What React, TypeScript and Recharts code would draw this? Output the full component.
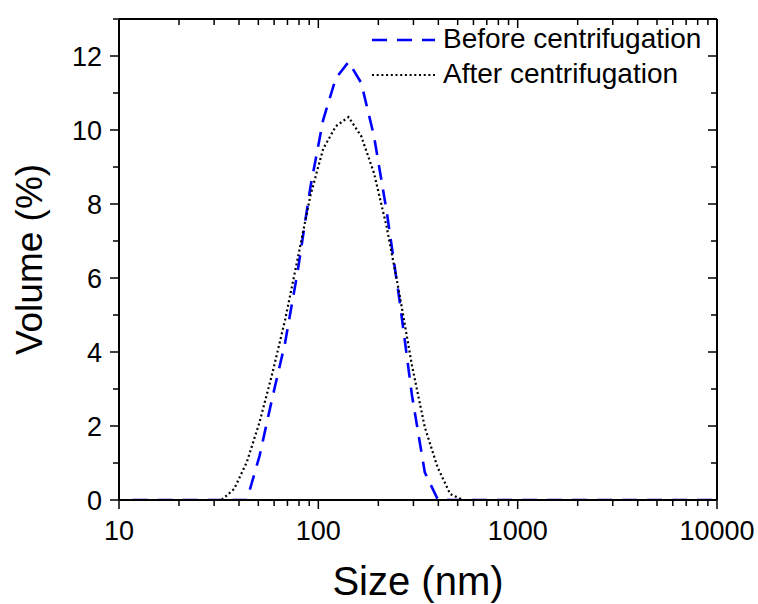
import { LineChart, Line, XAxis, YAxis } from 'recharts';

// DLS size bins (nm) and volume distributions (%)
const sizes = [
  11.7, 13.54, 15.69, 18.17, 21.04, 24.36, 28.21, 32.67, 37.84, 43.82,
  50.75, 58.77, 68.06, 78.82, 91.28, 105.7, 122.4, 141.8, 164.2, 190.1,
  220.2, 255.0, 295.3, 342.0, 396.1, 458.7, 531.2, 615.1, 712.4, 825.0,
  955.4, 1106, 1281, 1484, 1718, 1990, 2305, 2669, 3091, 3580,
  4145, 4801, 5560, 6439, 7456, 8635, 10000,
];
const before = [
  0, 0, 0, 0, 0, 0, 0, 0, 0, 0,
  1.2, 2.76, 4.24, 6.19, 8.46, 10.27, 11.4, 11.84, 11.27, 9.84,
  7.8, 5.43, 2.81, 0.75, 0.03, 0, 0, 0, 0, 0,
  0, 0, 0, 0, 0, 0, 0, 0, 0, 0,
  0, 0, 0, 0, 0, 0, 0,
];
const after = [
  0, 0, 0, 0, 0, 0, 0, 0, 0.3, 1.03,
  2.11, 3.42, 4.86, 6.53, 8.23, 9.49, 10.1, 10.35, 9.83, 8.84,
  7.38, 5.58, 3.62, 1.97, 0.89, 0.16, 0, 0, 0, 0,
  0, 0, 0, 0, 0, 0, 0, 0, 0, 0,
  0, 0, 0, 0, 0, 0, 0,
];

const xMajor = [10, 100, 1000, 10000];
const xTicks = [
  10, 20, 30, 40, 50, 60, 70, 80, 90,
  100, 200, 300, 400, 500, 600, 700, 800, 900,
  1000, 2000, 3000, 4000, 5000, 6000, 7000, 8000, 9000, 10000,
];
const yTicks = [0, 1, 2, 3, 4, 5, 6, 7, 8, 9, 10, 11, 12, 13];
const yMajor = [0, 2, 4, 6, 8, 10, 12];

const data = sizes.map((s, i) => ({ size: s, before: before[i], after: after[i] }));

const FONT = '"Liberation Sans", Arial, sans-serif';

const BottomTick = (props: any) => {
  const { x, y, payload } = props;
  const major = xMajor.includes(payload.value);
  return (
    <g>
      <line x1={x} y1={y} x2={x} y2={y + (major ? 9 : 6)} stroke="#000" strokeWidth={1.5} />
      {major && (
        <text x={x} y={y + 40} textAnchor="middle" fontSize={27} fill="#000">
          {payload.value}
        </text>
      )}
    </g>
  );
};

const TopTick = (props: any) => {
  const { x, y, payload } = props;
  const major = xMajor.includes(payload.value);
  return <line x1={x} y1={y} x2={x} y2={y + (major ? 9 : 6)} stroke="#000" strokeWidth={1.5} />;
};

const LeftTick = (props: any) => {
  const { x, y, payload } = props;
  const major = yMajor.includes(payload.value);
  return (
    <g>
      <line x1={x} y1={y} x2={x - (major ? 9 : 6)} y2={y} stroke="#000" strokeWidth={1.5} />
      {major && (
        <text x={x - 17} y={y} dy="0.36em" textAnchor="end" fontSize={27} fill="#000">
          {payload.value}
        </text>
      )}
    </g>
  );
};

const RightTick = (props: any) => {
  const { x, y, payload } = props;
  const major = yMajor.includes(payload.value);
  return <line x1={x} y1={y} x2={x - (major ? 9 : 6)} y2={y} stroke="#000" strokeWidth={1.5} />;
};

export default function App() {
  return (
    <div style={{ position: 'absolute', left: 0, top: 0, width: 758, height: 604, fontFamily: FONT }}>
      <style>{'.recharts-surface { overflow: visible; }'}</style>
      <LineChart width={758} height={604} data={data} margin={{ top: 18, right: 40, bottom: 0, left: 0 }}>
        <XAxis
          dataKey="size"
          type="number"
          scale="log"
          domain={[10, 10000]}
          ticks={xTicks}
          interval={0}
          allowDataOverflow
          height={104}
          tickSize={0}
          tickMargin={0}
          tickLine={false}
          axisLine={{ stroke: '#000', strokeWidth: 2 }}
          tick={<BottomTick />}
          label={{
            content: (p: any) => (
              <text
                x={p.viewBox.x + p.viewBox.width / 2}
                y={p.viewBox.y + 95}
                textAnchor="middle"
                fontSize={40}
                fill="#000"
              >
                Size (nm)
              </text>
            ),
          }}
        />
        <XAxis
          xAxisId="top"
          orientation="top"
          dataKey="size"
          type="number"
          scale="log"
          domain={[10, 10000]}
          ticks={xTicks}
          interval={0}
          allowDataOverflow
          height={1}
          tickSize={0}
          tickMargin={0}
          tickLine={false}
          axisLine={{ stroke: '#000', strokeWidth: 2 }}
          tick={<TopTick />}
        />
        <YAxis
          type="number"
          domain={[0, 13]}
          ticks={yTicks}
          interval={0}
          allowDataOverflow
          width={119}
          tickSize={0}
          tickMargin={0}
          tickLine={false}
          axisLine={{ stroke: '#000', strokeWidth: 2 }}
          tick={<LeftTick />}
          label={{
            content: (p: any) => {
              const cx = p.viewBox.x + 42;
              const cy = p.viewBox.y + p.viewBox.height / 2;
              return (
                <text
                  x={cx}
                  y={cy}
                  transform={`rotate(-90, ${cx}, ${cy})`}
                  textAnchor="middle"
                  fontSize={37}
                  fill="#000"
                >
                  Volume (%)
                </text>
              );
            },
          }}
        />
        <YAxis
          yAxisId="right"
          orientation="right"
          type="number"
          domain={[0, 13]}
          ticks={yTicks}
          interval={0}
          allowDataOverflow
          width={1}
          tickSize={0}
          tickMargin={0}
          tickLine={false}
          axisLine={{ stroke: '#000', strokeWidth: 2 }}
          tick={<RightTick />}
        />
        <Line
          type="linear"
          dataKey="before"
          stroke="#0000ff"
          strokeWidth={2.6}
          strokeDasharray="15 10"
          dot={false}
          isAnimationActive={false}
        />
        <Line
          type="linear"
          dataKey="after"
          stroke="#000"
          strokeWidth={2.2}
          strokeDasharray="2 2.7"
          dot={false}
          isAnimationActive={false}
        />
      </LineChart>
      <svg
        width={360}
        height={80}
        style={{ position: 'absolute', left: 368, top: 18, fontFamily: FONT }}
      >
        <line x1={4} y1={22} x2={67} y2={22} stroke="#0000ff" strokeWidth={2.6} strokeDasharray="15 10" />
        <text x={75} y={30} fontSize={28} fill="#000">Before centrifugation</text>
        <line x1={4} y1={57} x2={67} y2={57} stroke="#000" strokeWidth={2.2} strokeDasharray="2 2.7" />
        <text x={75} y={65} fontSize={28} fill="#000">After centrifugation</text>
      </svg>
    </div>
  );
}
